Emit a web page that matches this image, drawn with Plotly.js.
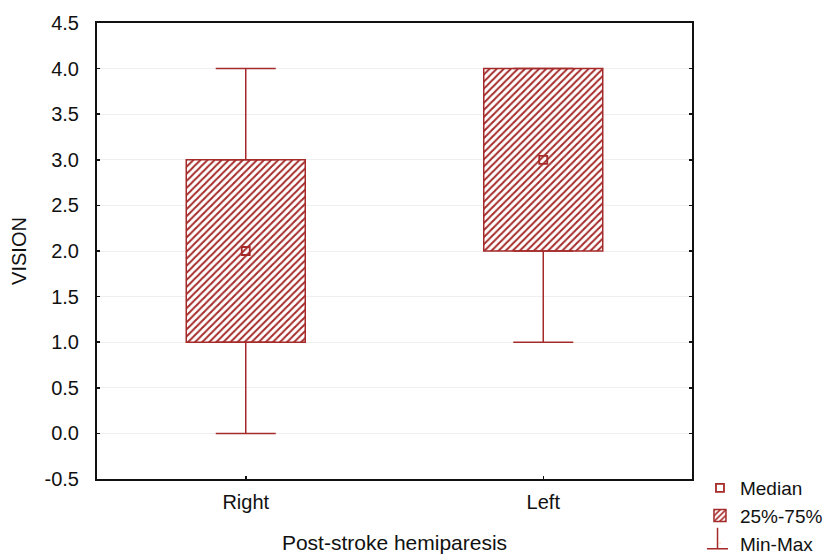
<!DOCTYPE html>
<html>
<head>
<meta charset="utf-8">
<script src="https://cdn.plot.ly/plotly-3.0.1.min.js"></script>
<style>html,body{margin:0;padding:0;background:#fff}#chart{width:832px;height:554px}</style>
</head>
<body>
<div id="chart"></div>
<script>
const categories = ["Right", "Left"];
const minVals = [0, 1];
const q1Vals = [1, 2];
const medianVals = [2, 3];
const q3Vals = [3, 4];
const maxVals = [4, 4];
const yTickVals = [-0.5, 0, 0.5, 1, 1.5, 2, 2.5, 3, 3.5, 4, 4.5];
const yTickText = ["-0.5", "0.0", "0.5", "1.0", "1.5", "2.0", "2.5", "3.0", "3.5", "4.0", "4.5"];

const RED = '#a52a2a';
const INK = '#111';
const FONT = 'Liberation Sans, Arial, sans-serif';

const boxTrace = {
  type: 'bar', name: '25%-75%', x: categories,
  y: q3Vals.map((v, i) => v - q1Vals[i]), base: q1Vals, width: 0.4,
  marker: { color: 'white', line: { color: RED, width: 1.5 },
    pattern: { shape: '/', fgcolor: RED, bgcolor: 'white', size: 5, solidity: 0.4 } },
  legendrank: 2, hoverinfo: 'skip'
};
const upperWhisker = {
  type: 'scatter', mode: 'markers', name: 'Min-Max', x: categories, y: q3Vals,
  marker: { size: 1, opacity: 0 },
  error_y: { type: 'data', symmetric: false, array: maxVals.map((v, i) => v - q3Vals[i]),
    arrayminus: q3Vals.map(() => 0), width: 30, thickness: 1.5, color: RED },
  legendgroup: 'mm', showlegend: true, legendrank: 3, hoverinfo: 'skip'
};
const lowerWhisker = {
  type: 'scatter', mode: 'markers', name: 'Min-Max', x: categories, y: q1Vals,
  marker: { size: 1, opacity: 0 },
  error_y: { type: 'data', symmetric: false, array: q1Vals.map(() => 0),
    arrayminus: q1Vals.map((v, i) => v - minVals[i]), width: 30, thickness: 1.5, color: RED },
  legendgroup: 'mm', showlegend: false, hoverinfo: 'skip'
};
const medianTrace = {
  type: 'scatter', mode: 'markers', name: 'Median', x: categories, y: medianVals,
  marker: { symbol: 'square-open', size: 8, color: RED, line: { width: 1.8, color: RED } },
  legendrank: 1
};

const layout = {
  width: 832, height: 554,
  margin: { l: 97, r: 140, t: 23, b: 75, autoexpand: false },
  paper_bgcolor: 'white', plot_bgcolor: 'white',
  font: { family: FONT, size: 20, color: INK },
  showlegend: true,
  legend: { x: 1.0134, xanchor: 'left', y: 0.0219, yanchor: 'top', bgcolor: 'rgba(0,0,0,0)',
    font: { family: FONT, size: 19, color: INK }, tracegroupgap: 0, itemwidth: 30 },
  xaxis: {
    type: 'category', range: [-0.5, 1.5], showline: true, linecolor: INK, linewidth: 2,
    mirror: true, ticks: 'inside', ticklen: 3, tickcolor: INK, tickwidth: 1.5,
    showgrid: false, zeroline: false, ticklabelstandoff: 4,
    tickfont: { family: FONT, size: 20, color: INK },
    title: { text: 'Post-stroke hemiparesis', font: { family: FONT, size: 21, color: INK } }
  },
  yaxis: {
    range: [-0.5, 4.5], tickvals: yTickVals, ticktext: yTickText,
    showline: true, linecolor: INK, linewidth: 2, mirror: 'ticks',
    ticks: 'inside', ticklen: 3, tickcolor: INK, tickwidth: 1.5,
    showgrid: true, gridcolor: '#efefef', gridwidth: 1, zeroline: false,
    ticklabelstandoff: 12,
    tickfont: { family: FONT, size: 20, color: INK },
    title: { text: 'VISION', standoff: 13, font: { family: FONT, size: 20, color: INK } }
  },
  shapes: [
    { type: 'line', xref: 'paper', yref: 'paper', x0: 1.0252, x1: 1.0605, y0: -0.153, y1: -0.153, line: { color: RED, width: 1.5 } },
    { type: 'line', xref: 'paper', yref: 'paper', x0: 1.0429, x1: 1.0429, y0: -0.153, y1: -0.107, line: { color: RED, width: 1.5 } }
  ]
};

Plotly.newPlot('chart', [boxTrace, upperWhisker, lowerWhisker, medianTrace], layout, { displayModeBar: false, staticPlot: true });
</script>
</body>
</html>
